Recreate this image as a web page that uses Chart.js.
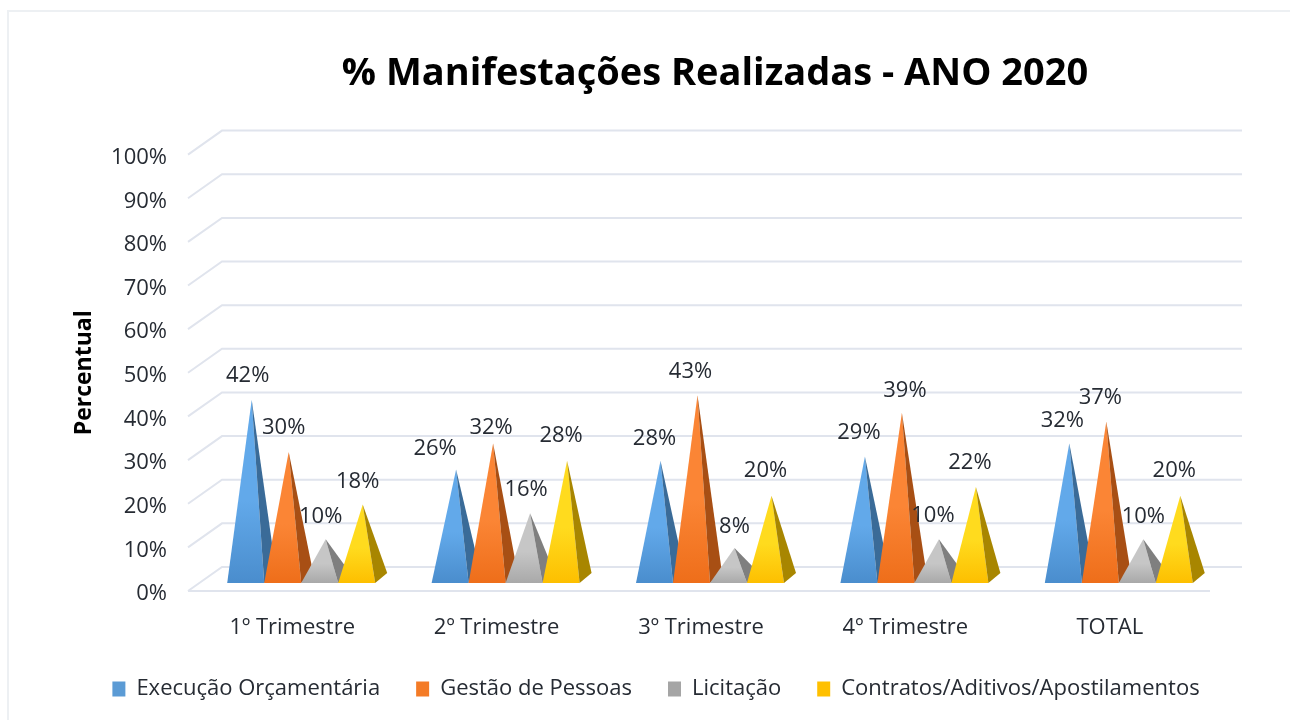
<!DOCTYPE html>
<html>
<head>
<meta charset="utf-8">
<title>% Manifestações Realizadas - ANO 2020</title>
<script src="https://cdn.jsdelivr.net/npm/chart.js@4/dist/chart.umd.min.js"></script>
<style>
    body { margin: 0; background: #fff; width: 1290px; height: 720px; overflow: hidden; }
    #frame { position: absolute; left: 7px; top: 10px; width: 1283px; height: 710px; border-left: 2px solid #edf0f3; border-top: 2px solid #edf0f3; box-sizing: border-box; }
    canvas { position: absolute; left: 0; top: 0; filter: blur(0.5px); }
</style>
</head>
<body>
<div id="frame"></div>
<canvas id="myChart" width="1290" height="720"></canvas>
<script>
const categories = ["1º Trimestre", "2º Trimestre", "3º Trimestre", "4º Trimestre", "TOTAL"];
const seriesNames = ["Execução Orçamentária", "Gestão de Pessoas", "Licitação", "Contratos/Aditivos/Apostilamentos"];
const execucao = [42, 26, 28, 29, 32];
const gestao = [30, 32, 43, 39, 37];
const licitacao = [10, 16, 8, 10, 10];
const contratos = [18, 28, 20, 22, 20];

const FONT = "'Open Sans', sans-serif";
const TEXT = "#262b33";

// colors per series: legend, front top, front bottom, side
const legendColors = ["#5b9bd5", "#f47b26", "#a5a5a5", "#ffc000"];
const frontTop = ["#62a9ea", "#fb8535", "#c6c6c6", "#ffdb1e"];
const frontBottom = ["#4a8dcd", "#ee6e1a", "#a9a9a9", "#fdbf00"];
const sideColors = ["#3a6b98", "#a84f14", "#7f7f7f", "#a88600"];

// perspective of the fake 3d
const BACK_X = 33, BACK_Y = -24;     // front plane to back wall
const FLOOR_X = 9, FLOOR_Y = -8;     // front plane to pyramid base
const DEPTH_X = 12, DEPTH_Y = -10;   // pyramid base depth

// hand placed label offsets from the apex [dx, dy], by category then series
const labelOffsets = [
    [[-4, -24], [-5, -24], [-5, -23], [-5, -23]],
    [[-21, -21], [-2, -16], [-4, -23], [-6, -25]],
    [[-6, -22], [-7, -24], [0, -21], [-6, -25]],
    [[-6, -24], [3, -22], [-6, -24], [-6, -24]],
    [[-7, -23], [-6, -24], [0, -23], [-6, -25]],
];

const pyramidPlugin = {
    id: "pyramid",
    afterLayout(chart) {
        // title and legend are not centered on the plot in the original
        chart.titleBlock.left += 109;
        chart.titleBlock.right += 109;
        chart.legend.left += 50;
        chart.legend.right += 50;
        chart.legend.top -= 1;
        chart.legend.bottom -= 1;
    },
    beforeDatasetsDraw(chart) {
        const { ctx, scales } = chart;
        const left = scales.x.left;
        const right = scales.x.right;
        ctx.save();
        ctx.strokeStyle = "#e0e4ed";
        ctx.lineWidth = 2;
        scales.y.ticks.forEach((tick) => {
            const y = scales.y.getPixelForValue(tick.value);
            ctx.beginPath();
            ctx.moveTo(left - 2, y);
            ctx.lineTo(left + BACK_X - 1, y + BACK_Y);
            ctx.lineTo(right + BACK_X - 3, y + BACK_Y);
            ctx.stroke();
        });
        // floor front edge
        const y0 = scales.y.getPixelForValue(0);
        ctx.beginPath();
        ctx.moveTo(left - 2, y0);
        ctx.lineTo(right - 2, y0);
        ctx.stroke();
        ctx.restore();
    },
    beforeDatasetDraw() {
        return false; // no flat bars, pyramids are drawn below
    },
    afterDatasetsDraw(chart) {
        const { ctx } = chart;
        const metas = chart.data.datasets.map((d, i) => chart.getDatasetMeta(i));
        metas.forEach((meta, s) => {
            meta.data.forEach((bar) => {
                const x1 = bar.x - bar.width / 2 + FLOOR_X;
                const x2 = bar.x + bar.width / 2 + FLOOR_X;
                const yb = bar.base + FLOOR_Y;
                const ax = bar.x + FLOOR_X + DEPTH_X / 2;
                const ay = bar.y + FLOOR_Y;

                const grad = ctx.createLinearGradient(0, ay, 0, yb);
                grad.addColorStop(0, frontTop[s]);
                grad.addColorStop(0.55, frontTop[s]);
                grad.addColorStop(1, frontBottom[s]);
                ctx.fillStyle = grad;
                ctx.beginPath();
                ctx.moveTo(x1, yb);
                ctx.lineTo(x2, yb);
                ctx.lineTo(ax, ay);
                ctx.closePath();
                ctx.fill();

                ctx.fillStyle = sideColors[s];
                ctx.beginPath();
                ctx.moveTo(x2, yb);
                ctx.lineTo(x2 + DEPTH_X, yb + DEPTH_Y);
                ctx.lineTo(ax, ay);
                ctx.closePath();
                ctx.fill();
            });
        });

        // value labels
        ctx.save();
        ctx.font = "22px " + FONT;
        ctx.fillStyle = TEXT;
        ctx.textAlign = "center";
        ctx.textBaseline = "middle";
        metas.forEach((meta, s) => {
            meta.data.forEach((bar, c) => {
                const ax = bar.x + FLOOR_X + DEPTH_X / 2;
                const ay = bar.y + FLOOR_Y;
                const off = labelOffsets[c][s];
                ctx.fillText(chart.data.datasets[s].data[c] + "%", ax + off[0], ay + off[1]);
            });
        });
        ctx.restore();
    },
};

const seriesValues = [execucao, gestao, licitacao, contratos];

new Chart(document.getElementById("myChart"), {
    type: "bar",
    plugins: [pyramidPlugin],
    data: {
        labels: categories,
        datasets: seriesNames.map((name, i) => ({
            label: name,
            data: seriesValues[i],
            backgroundColor: legendColors[i],
            categoryPercentage: 0.724,
            barPercentage: 1,
        })),
    },
    options: {
        responsive: false,
        animation: false,
        layout: { padding: { left: 0, right: 78, top: 0, bottom: 9 } },
        plugins: {
            title: {
                display: true,
                text: "% Manifestações Realizadas - ANO 2020",
                color: "#000",
                font: { family: FONT, size: 38, weight: "bold" },
                padding: { top: 51, bottom: 58 },
            },
            legend: {
                position: "bottom",
                labels: {
                    boxWidth: 13,
                    boxHeight: 15,
                    padding: 36,
                    color: TEXT,
                    font: { family: FONT, size: 22 },
                },
            },
            tooltip: { enabled: false },
        },
        scales: {
            x: {
                grid: { display: false },
                border: { display: false },
                ticks: { color: TEXT, font: { family: FONT, size: 22 }, padding: 16, maxRotation: 0 },
                afterFit(scale) {
                    scale.height = 52;
                },
            },
            y: {
                min: 0,
                max: 100,
                grid: { display: false },
                border: { display: false },
                title: {
                    display: true,
                    text: "Percentual",
                    color: "#000",
                    font: { family: FONT, size: 23, weight: "bold" },
                    padding: { top: 71, bottom: 0 },
                },
                ticks: {
                    stepSize: 10,
                    color: TEXT,
                    font: { family: FONT, size: 22 },
                    padding: 15,
                    labelOffset: 3,
                    callback: (val) => val + "%",
                },
                afterFit(scale) {
                    scale.width = 190;
                },
            },
        },
    },
});
</script>
</body>
</html>
